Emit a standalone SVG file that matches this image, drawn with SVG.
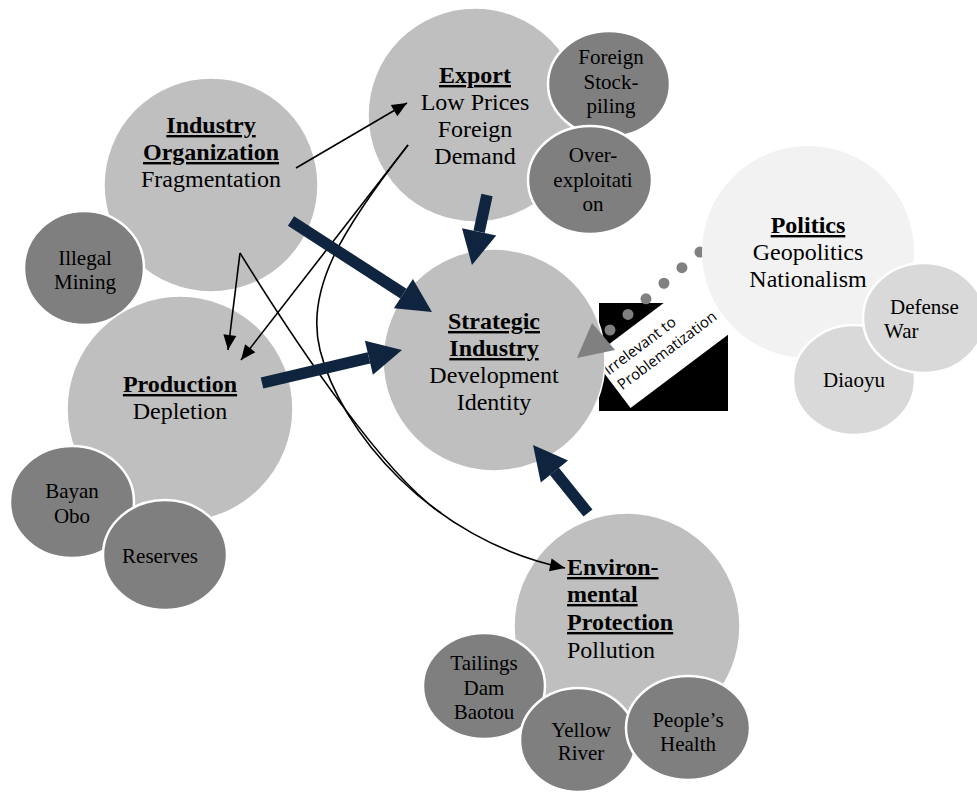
<svg xmlns="http://www.w3.org/2000/svg" width="977" height="792" viewBox="0 0 977 792">
<style>
.big{fill:#BFBFBF;stroke:#fff;stroke-width:1.5}
.sat{fill:#7F7F7F;stroke:#fff;stroke-width:2.5}
.pol{fill:#F2F2F2}
.psat{fill:#D9D9D9;stroke:#fff;stroke-width:2.5}
.t{font-family:"Liberation Serif","Times New Roman",serif;font-size:24px;fill:#000;text-anchor:middle}
.s{font-size:21px}
.h{font-weight:bold;text-decoration:underline}
.l{text-anchor:start}
.thin{fill:none;stroke:#000;stroke-width:1.6}
.thick{fill:none;stroke:#0F243E;stroke-width:11.5}
.lab{font-family:"Open Sans","Liberation Sans",sans-serif;font-size:15px;fill:#000}
</style>
<defs>
<marker id="ah" markerUnits="userSpaceOnUse" markerWidth="16" markerHeight="13" refX="15" refY="6.5" orient="auto" overflow="visible">
<path d="M0,0 L15,6.5 L0,13 z" fill="#000"/>
</marker>
<marker id="big" markerUnits="userSpaceOnUse" markerWidth="36" markerHeight="36" refX="0" refY="17.5" orient="auto" overflow="visible">
<path d="M0,0 L34,17.5 L0,35 z" fill="#0F243E"/>
</marker>
<clipPath id="boxclip"><rect x="599" y="303" width="129" height="108"/></clipPath>
</defs>

<g id="industry-organization">
<circle class="big" cx="211" cy="185" r="107"/>
<text class="t h" x="211" y="133">Industry</text>
<text class="t h" x="211" y="160">Organization</text>
<text class="t" x="211" y="187">Fragmentation</text>
</g>
<g id="illegal-mining">
<ellipse class="sat" cx="84" cy="268" rx="60" ry="57"/>
<text class="t s" x="85" y="265">Illegal</text>
<text class="t s" x="85" y="289">Mining</text>
</g>

<g id="export">
<circle class="big" cx="475" cy="115" r="107"/>
<text class="t h" x="475" y="83">Export</text>
<text class="t" x="475" y="110">Low Prices</text>
<text class="t" x="475" y="137">Foreign</text>
<text class="t" x="475" y="164">Demand</text>
</g>
<g id="foreign-stockpiling">
<ellipse class="sat" cx="609" cy="84" rx="61" ry="53"/>
<text class="t s" x="611" y="64">Foreign</text>
<text class="t s" x="611" y="89">Stock-</text>
<text class="t s" x="611" y="113">piling</text>
</g>
<g id="over-exploitation">
<ellipse class="sat" cx="590" cy="180" rx="62" ry="54"/>
<text class="t s" x="593" y="162">Over-</text>
<text class="t s" x="593" y="187">exploitati</text>
<text class="t s" x="593" y="211">on</text>
</g>

<g id="production">
<circle class="big" cx="180" cy="409" r="113"/>
<text class="t h" x="180" y="392">Production</text>
<text class="t" x="180" y="419">Depletion</text>
</g>
<g id="bayan-obo">
<ellipse class="sat" cx="72" cy="502" rx="62" ry="56"/>
<text class="t s" x="72" y="498">Bayan</text>
<text class="t s" x="72" y="523">Obo</text>
</g>
<g id="reserves">
<ellipse class="sat" cx="165" cy="555" rx="62" ry="55"/>
<text class="t s" x="160" y="563">Reserves</text>
</g>

<g id="environmental-protection">
<circle class="big" cx="627" cy="626" r="113"/>
<text class="t h l" x="567" y="575">Environ-</text>
<text class="t h l" x="567" y="602">mental</text>
<text class="t h l" x="567" y="630">Protection</text>
<text class="t l" x="567" y="658">Pollution</text>
</g>
<g id="tailings-dam-baotou">
<ellipse class="sat" cx="484" cy="686" rx="61" ry="53"/>
<text class="t s" x="484" y="670">Tailings</text>
<text class="t s" x="484" y="695">Dam</text>
<text class="t s" x="484" y="719">Baotou</text>
</g>
<g id="yellow-river">
<ellipse class="sat" cx="578" cy="740" rx="58" ry="52"/>
<text class="t s" x="581" y="737">Yellow</text>
<text class="t s" x="581" y="760">River</text>
</g>
<g id="peoples-health">
<ellipse class="sat" cx="688" cy="728" rx="62" ry="52"/>
<text class="t s" x="688" y="727">People’s</text>
<text class="t s" x="688" y="751">Health</text>
</g>

<g id="label-irrelevant">
<rect x="599" y="303" width="129" height="108" fill="#000"/>
<g clip-path="url(#boxclip)">
<g transform="translate(592,357) rotate(-37)">
<rect x="0" y="0" width="220" height="64" fill="#fff"/>
<text class="lab" x="2" y="25">Irrelevant to</text>
<text class="lab" x="4" y="45">Problematization</text>
</g>
</g>
</g>

<g id="strategic-industry">
<circle class="big" cx="494" cy="360" r="111"/>
<text class="t h" x="494" y="329">Strategic</text>
<text class="t h" x="494" y="356">Industry</text>
<text class="t" x="494" y="383">Development</text>
<text class="t" x="494" y="410">Identity</text>
</g>

<g id="connectors">
<path class="thin" d="M296,168 L407,103" marker-end="url(#ah)"/>
<path class="thin" d="M408,145 L241,360" marker-end="url(#ah)"/>
<path class="thin" d="M408,145 C341,231 305,290 320,350 C340,430 430,540 565,568" marker-end="url(#ah)"/>
<path class="thin" d="M240,253 L228,350" marker-end="url(#ah)"/>
<path class="thin" d="M240,253 C300,350 385,475 441,513"/>
<path class="thick" d="M291,221 L403.4,293.6" marker-end="url(#big)"/>
<path class="thick" d="M262,383 L368.9,357.8" marker-end="url(#big)"/>
<path class="thick" d="M487,195 L479.1,231.8" marker-end="url(#big)"/>
<path class="thick" d="M588,513 L554.4,471.4" marker-end="url(#big)"/>
<path d="M610,330 L700,252" fill="none" stroke="#808080" stroke-width="11" stroke-linecap="round" stroke-dasharray="0 23.8"/>
<path d="M577,358 L592,323 L615,350 z" fill="#808080"/>
</g>

<g id="politics">
<circle class="pol" cx="808" cy="252" r="106"/>
<text class="t h" x="808" y="233">Politics</text>
<text class="t" x="808" y="260">Geopolitics</text>
<text class="t" x="808" y="287">Nationalism</text>
</g>
<g id="diaoyu">
<ellipse class="psat" cx="854" cy="380" rx="61" ry="55"/>
<text class="t s" x="854" y="387">Diaoyu</text>
</g>
<g id="defense-war">
<ellipse class="psat" cx="924" cy="318" rx="61" ry="55"/>
<text class="t s l" x="890" y="314">Defense</text>
<text class="t s l" x="884" y="338">War</text>
</g>
</svg>
